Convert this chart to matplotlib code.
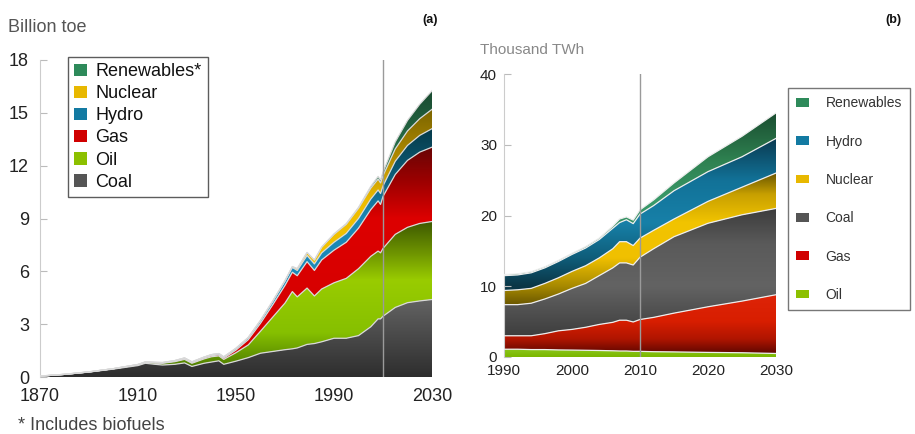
import numpy as np
import matplotlib
matplotlib.use("Agg")
import matplotlib.pyplot as plt
from matplotlib.colors import LinearSegmentedColormap
from matplotlib.patches import Patch

plt.rcParams["font.family"] = ["Liberation Sans", "DejaVu Sans"]

# ---------------------------------------------------------------------------
# (a) primary energy, billion toe
# ---------------------------------------------------------------------------
years_a = [1870, 1880, 1890, 1900, 1910, 1913, 1917, 1920, 1925, 1929, 1932,
           1937, 1940, 1943, 1945, 1950, 1955, 1960, 1965, 1970, 1973, 1975,
           1979, 1982, 1985, 1990, 1995, 2000, 2005, 2008, 2009, 2010, 2015,
           2020, 2025, 2030]
coal_a = [0.05, 0.15, 0.28, 0.45, 0.65, 0.78, 0.72, 0.68, 0.72, 0.80, 0.60,
          0.78, 0.85, 0.92, 0.72, 0.90, 1.10, 1.35, 1.45, 1.55, 1.60, 1.65,
          1.85, 1.90, 2.00, 2.20, 2.20, 2.35, 2.85, 3.30, 3.30, 3.45, 3.95,
          4.22, 4.32, 4.40]
oil_a = [0.00, 0.00, 0.01, 0.02, 0.04, 0.05, 0.07, 0.10, 0.15, 0.20, 0.18,
         0.25, 0.30, 0.28, 0.28, 0.48, 0.72, 1.25, 1.95, 2.65, 3.25, 2.90,
         3.20, 2.70, 3.00, 3.15, 3.40, 3.80, 4.00, 3.85, 3.75, 3.85, 4.15,
         4.28, 4.40, 4.43]
gas_a = [0.00, 0.00, 0.00, 0.00, 0.01, 0.01, 0.02, 0.02, 0.03, 0.04, 0.04,
         0.05, 0.06, 0.06, 0.07, 0.15, 0.30, 0.45, 0.70, 1.00, 1.10, 1.20,
         1.50, 1.45, 1.65, 1.85, 2.05, 2.30, 2.65, 2.85, 2.75, 2.95, 3.40,
         3.80, 4.05, 4.22]
hydro_a = [0.00, 0.00, 0.00, 0.005, 0.01, 0.015, 0.02, 0.02, 0.03, 0.04, 0.04,
           0.05, 0.06, 0.07, 0.07, 0.10, 0.12, 0.16, 0.20, 0.25, 0.27, 0.30,
           0.35, 0.37, 0.40, 0.45, 0.50, 0.55, 0.60, 0.62, 0.62, 0.60, 0.75,
           0.85, 0.95, 1.05]
nuclear_a = [0.0] * 17 + [0.0, 0.01, 0.02, 0.05, 0.10, 0.17, 0.22, 0.33,
                          0.45, 0.52, 0.58, 0.62, 0.62, 0.60, 0.58, 0.70,
                          0.82, 0.95, 1.10]
renew_a = [0.0] * 25 + [0.03, 0.04, 0.05, 0.10, 0.15, 0.17, 0.20, 0.40,
                        0.60, 0.82, 1.05]

# ---------------------------------------------------------------------------
# (b) electricity generation, thousand TWh
# ---------------------------------------------------------------------------
years_b = [1990, 1992, 1994, 1996, 1998, 2000, 2002, 2004, 2006, 2007, 2008,
           2009, 2010, 2012, 2015, 2020, 2025, 2030]
oil_b = [1.10, 1.10, 1.05, 1.05, 1.00, 0.98, 0.95, 0.92, 0.88, 0.85, 0.85,
         0.80, 0.80, 0.75, 0.72, 0.65, 0.60, 0.50]
gas_b = [1.90, 1.90, 1.95, 2.25, 2.70, 2.92, 3.25, 3.68, 4.02, 4.35, 4.35,
         4.15, 4.50, 4.85, 5.48, 6.45, 7.30, 8.30]
coal_b = [4.40, 4.40, 4.60, 4.90, 5.20, 5.80, 6.20, 6.90, 7.70, 8.10, 8.10,
          8.05, 8.80, 9.70, 10.80, 11.80, 12.20, 12.20]
nuclear_b = [2.00, 2.10, 2.10, 2.20, 2.30, 2.40, 2.50, 2.50, 2.70, 3.00, 3.00,
             2.75, 2.70, 2.60, 2.50, 3.10, 3.90, 5.00]
hydro_b = [2.10, 2.10, 2.20, 2.20, 2.30, 2.40, 2.50, 2.60, 2.90, 2.70, 3.10,
           3.10, 3.40, 3.50, 4.00, 4.20, 4.30, 4.90]
renew_b = [0.15, 0.15, 0.15, 0.15, 0.15, 0.15, 0.20, 0.20, 0.30, 0.50, 0.40,
           0.50, 0.60, 0.80, 1.10, 2.10, 2.90, 3.60]

# vertical colour ramps, given as (y value, colour) pairs
ramps_a = {
    "Coal": [(0, "#2e2e2e"), (4.5, "#646464")],
    "Oil": [(0.5, "#4e7d00"), (2.5, "#86c000"), (5.5, "#99cc00"),
            (7.0, "#6f9500"), (8.8, "#3e5a00")],
    "Gas": [(2, "#d40000"), (9, "#dd0000"), (11, "#a00000"), (13, "#6a0505")],
    "Hydro": [(3, "#1b8fc0"), (9, "#1a86b5"), (11.5, "#0d5c78"),
              (14, "#063c4c")],
    "Nuclear": [(5, "#f5c800"), (10, "#eebc00"), (12.5, "#b08a00"),
                (15.3, "#7a6400")],
    "Renewables": [(8, "#2e9060"), (12, "#2a7a50"), (16.3, "#1a4a30")],
}
ramps_b = {
    "Oil": [(0, "#7cb800"), (1.2, "#8cc820")],
    "Gas": [(0.4, "#5e0600"), (2.5, "#b01500"), (5, "#d81e00"),
            (8.8, "#de2408")],
    "Coal": [(3, "#3e3e3e"), (10, "#636363"), (16, "#5a5a5a"),
             (21, "#3c3c3c")],
    "Nuclear": [(7.5, "#6e5a00"), (10, "#a88a00"), (14, "#f0c000"),
                (19, "#f2c400"), (23, "#c8a000"), (26, "#6a5600")],
    "Hydro": [(10, "#0a3646"), (14, "#0f5d7a"), (19, "#1780a8"),
              (25, "#127298"), (31, "#0a3a50")],
    "Renewables": [(11, "#2a7a50"), (22, "#3a9a6a"), (28, "#2e8050"),
                   (34.5, "#1a4d30")],
}
swatch = {"Coal": "#555555", "Oil": "#8cc000", "Gas": "#d00000",
          "Hydro": "#137aa2", "Nuclear": "#e8b800", "Renewables": "#2e8a5a"}


def ramp_cmap(stops, ytop):
    pts = [(min(max(y / ytop, 0), 1), c) for y, c in stops]
    if pts[0][0] > 0:
        pts.insert(0, (0.0, pts[0][1]))
    if pts[-1][0] < 1:
        pts.append((1.0, pts[-1][1]))
    return LinearSegmentedColormap.from_list("ramp", pts)


def stacked(ax, years, layers, ramps, ytop, edge):
    x = np.asarray(years, dtype=float)
    base = np.zeros_like(x)
    grad = np.linspace(0, 1, 512).reshape(-1, 1)
    tops = []
    for i, (name, vals) in enumerate(layers):
        top = base + np.asarray(vals, dtype=float)
        poly = ax.fill_between(x, base, top, facecolor="none",
                               edgecolor="none")
        im = ax.imshow(grad, extent=[x[0], x[-1], 0, ytop], origin="lower",
                       aspect="auto", interpolation="bilinear",
                       cmap=ramp_cmap(ramps[name], ytop), zorder=1 + i * 0.01)
        im.set_clip_path(poly.get_paths()[0], transform=ax.transData)
        tops.append(top)
        base = top
    for top in tops:
        ax.plot(x, top, color=edge, lw=0.9, zorder=3)
    ax.set_xlim(x[0], x[-1])
    ax.set_ylim(0, ytop)
    ax.set_aspect("auto")


def style_axes(ax, yticks, xticks, fs, pad_y, pad_x):
    for side in ("top", "right", "bottom"):
        ax.spines[side].set_visible(False)
    ax.spines["left"].set_color("#cccccc")
    ax.spines["left"].set_linewidth(0.8)
    ax.set_yticks(yticks)
    ax.set_xticks(xticks)
    ax.tick_params(axis="y", direction="in", length=5, color="#bbbbbb",
                   labelsize=fs, labelcolor="#222222", pad=pad_y)
    ax.tick_params(axis="x", length=0, labelsize=fs, labelcolor="#222222",
                   pad=pad_x)
    ax.axvline(2010, color="#9a9a9a", lw=1, zorder=5)


fig = plt.figure(figsize=(9.15, 4.34), dpi=100)

# panel (a)
ax1 = fig.add_axes([40 / 915, 1 - 377 / 434, 392 / 915, 317 / 434])
layers_a = [("Coal", coal_a), ("Oil", oil_a), ("Gas", gas_a),
            ("Hydro", hydro_a), ("Nuclear", nuclear_a),
            ("Renewables", renew_a)]
stacked(ax1, years_a, layers_a, ramps_a, 18, "#d9d9d9")
style_axes(ax1, [0, 3, 6, 9, 12, 15, 18], [1870, 1910, 1950, 1990, 2030],
           13, 8, 8)

order_a = ["Renewables", "Nuclear", "Hydro", "Gas", "Oil", "Coal"]
labels_a = ["Renewables*", "Nuclear", "Hydro", "Gas", "Oil", "Coal"]
leg1 = ax1.legend([Patch(facecolor=swatch[k]) for k in order_a], labels_a,
                  loc="upper left", bbox_to_anchor=(68 / 915, 1 - 57 / 434),
                  bbox_transform=fig.transFigure, fontsize=13, frameon=True,
                  fancybox=False, edgecolor="#333333", handlelength=0.7,
                  handleheight=0.7, handletextpad=0.45, labelspacing=0.28,
                  borderpad=0.35, borderaxespad=0)
leg1.get_frame().set_linewidth(1.0)
for t in leg1.get_texts():
    t.set_color("#111111")

# panel (b)
ax2 = fig.add_axes([504 / 915, 1 - 357 / 434, 272 / 915, 283 / 434])
layers_b = [("Oil", oil_b), ("Gas", gas_b), ("Coal", coal_b),
            ("Nuclear", nuclear_b), ("Hydro", hydro_b),
            ("Renewables", renew_b)]
stacked(ax2, years_b, layers_b, ramps_b, 40, "#eeeeee")
style_axes(ax2, [0, 10, 20, 30, 40], [1990, 2000, 2010, 2020, 2030], 11, 5, 5)

order_b = ["Renewables", "Hydro", "Nuclear", "Coal", "Gas", "Oil"]
leg2 = ax2.legend([Patch(facecolor=swatch[k]) for k in order_b], order_b,
                  loc="upper left", bbox_to_anchor=(788 / 915, 1 - 88 / 434),
                  bbox_transform=fig.transFigure, fontsize=10, frameon=True,
                  fancybox=False, edgecolor="#555555", handlelength=0.9,
                  handleheight=0.6, handletextpad=1.2, labelspacing=1.75,
                  borderpad=0.6, borderaxespad=0)
leg2.get_frame().set_linewidth(1.0)
for t in leg2.get_texts():
    t.set_color("#333333")

fig.text(8 / 915, 1 - 28 / 434, "Billion toe", fontsize=13, color="#555555",
         va="center", ha="left")
fig.text(430 / 915, 1 - 20 / 434, "(a)", fontsize=9, fontweight="bold",
         color="#111111", va="center", ha="center")
fig.text(18 / 915, 1 - 425 / 434, "* Includes biofuels", fontsize=13,
         color="#444444", va="center", ha="left")
fig.text(480 / 915, 1 - 50 / 434, "Thousand TWh", fontsize=11,
         color="#888888", va="center", ha="left")
fig.text(893 / 915, 1 - 20 / 434, "(b)", fontsize=9, fontweight="bold",
         color="#111111", va="center", ha="center")

fig.savefig("out.png", dpi=100)
